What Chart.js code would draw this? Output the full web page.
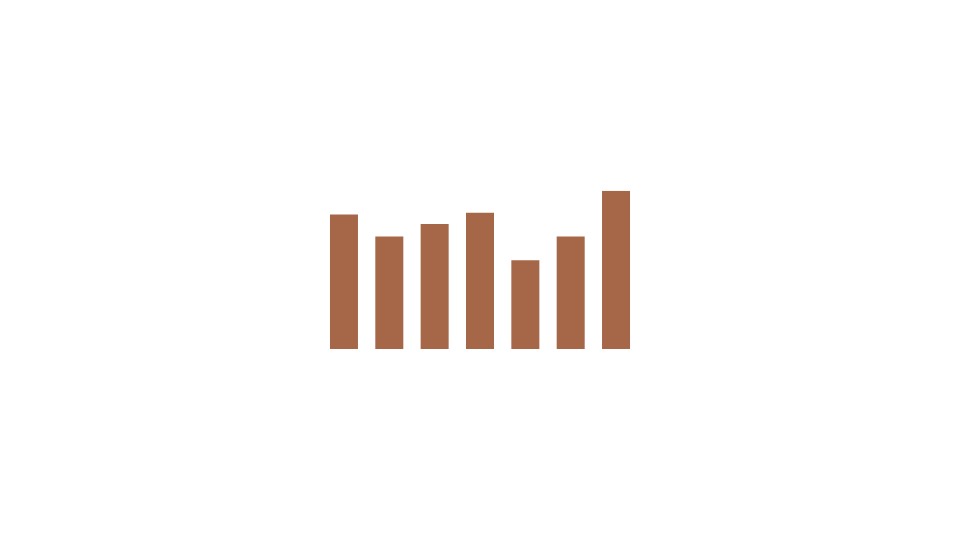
<!DOCTYPE html>
<html>
<head>
<meta charset="utf-8">
<script src="https://cdn.jsdelivr.net/npm/chart.js@4/dist/chart.umd.min.js"></script>
<style>
html,body{margin:0;padding:0;background:#fff;}
#wrap{width:960px;height:540px;position:relative;}
</style>
</head>
<body>
<div id="wrap"><canvas id="c" width="960" height="540"></canvas></div>
<script>
const categories = ["1", "2", "3", "4", "5", "6", "7"];
const values = [85, 71, 79, 86, 56, 71, 100];
const barColor = "#a66748";

new Chart(document.getElementById("c"), {
  type: "bar",
  data: {
    labels: categories,
    datasets: [{
      data: values,
      backgroundColor: barColor,
      borderWidth: 0,
      categoryPercentage: 1,
      barPercentage: 0.6176
    }]
  },
  options: {
    responsive: false,
    animation: false,
    layout: { padding: { left: 321.3, right: 321.3, top: 190.7, bottom: 191 } },
    plugins: { legend: { display: false }, tooltip: { enabled: false }, title: { display: false } },
    scales: {
      x: { display: false },
      y: { display: false, min: 0, max: 100 }
    }
  }
});
</script>
</body>
</html>
